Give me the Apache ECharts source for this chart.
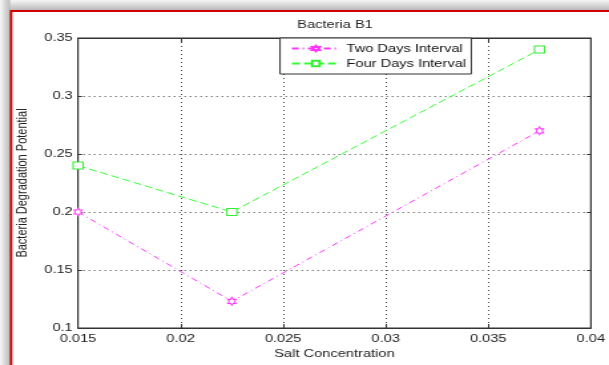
<!DOCTYPE html>
<html>
<head>
<meta charset="utf-8">
<script src="https://cdn.jsdelivr.net/npm/echarts@6/dist/echarts.min.js"></script>
<style>
html, body { margin: 0; padding: 0; background: #fff; overflow: hidden; }
/* the figure is drawn on a narrower canvas and widened, giving its wide lettering */
#chart { width: 458px; height: 365px; transform: scaleX(1.3297); transform-origin: 0 0; }
</style>
</head>
<body>
<div id="chart"></div>
<script>
// Salt concentration levels and measured degradation potential
const saltConcentration = [0.015, 0.0225, 0.0375];
const twoDaysInterval = [0.2, 0.123, 0.27];
const fourDaysInterval = [0.24, 0.2, 0.34];
const xTicks = [0.015, 0.02, 0.025, 0.03, 0.035, 0.04];
const yTicks = [0.1, 0.15, 0.2, 0.25, 0.3, 0.35];

const hexagram = 'path://M0,-10 L2.9,-5 L8.66,-5 L5.8,0 L8.66,5 L2.9,5 L0,10 L-2.9,5 L-8.66,5 L-5.8,0 L-8.66,-5 L-2.9,-5 Z';
const fmt = v => String(+v.toFixed(4));

const chart = echarts.init(document.getElementById('chart'));
const font = 'Liberation Sans, Arial, sans-serif';
const FS = 11;

function pairs(ys) { return saltConcentration.map((x, i) => [x, ys[i]]); }

const W = 458;
chart.setOption({
  animation: false,
  backgroundColor: '#ffffff',
  textStyle: { fontFamily: font },
  graphic: [
    { type: 'rect', shape: { x: 0, y: 0, width: W, height: 10 }, silent: true,
      style: { fill: new echarts.graphic.LinearGradient(0, 0, 0, 1, [{ offset: 0, color: '#f6f6f6' }, { offset: 1, color: '#bababa' }]) } },
    { type: 'rect', shape: { x: 0, y: 0, width: 7.5, height: 365 }, silent: true,
      style: { fill: new echarts.graphic.LinearGradient(0, 0, 1, 0, [{ offset: 0, color: '#f6f6f6' }, { offset: 1, color: '#bababa' }]) } },
    { type: 'polyline', shape: { points: [[8.3, 365], [8.3, 11], [W, 11]] }, silent: true,
      style: { stroke: '#d00000', lineWidth: 2, fill: null } },
    { type: 'text', x: 252, y: 25, silent: true,
      style: { text: 'Bacteria B1', fontSize: FS, fill: '#222', fontFamily: font, align: 'center', verticalAlign: 'middle' } }
  ],
  grid: { left: 58.7, right: 8.3, top: 38, bottom: 37, show: true, borderColor: '#333', borderWidth: 1, backgroundColor: 'transparent' },
  legend: {
    left: 210.6, top: 38, orient: 'vertical',
    backgroundColor: '#fff', borderColor: '#333', borderWidth: 1,
    padding: [5, 4, 5, 8], itemGap: 4, itemWidth: 36, itemHeight: 7,
    textStyle: { fontSize: FS, color: '#111', fontFamily: font },
    data: ['Two Days Interval', 'Four Days Interval']
  },
  xAxis: [{
    type: 'value', min: 0.015, max: 0.04, interval: 0.005,
    name: 'Salt Concentration', nameLocation: 'middle', nameGap: 19,
    nameTextStyle: { fontSize: FS, color: '#222' },
    axisLine: { show: true, lineStyle: { color: '#333' } },
    axisTick: { show: true, inside: true, length: 4, lineStyle: { color: '#333' } },
    axisLabel: { fontSize: FS, color: '#222', margin: 5, formatter: fmt, showMaxLabel: true },
    splitLine: { show: true, lineStyle: { color: '#444', type: [1, 3], width: 1 } }
  }, {
    type: 'value', position: 'top', min: 0.015, max: 0.04, interval: 0.005,
    axisLine: { show: true, lineStyle: { color: '#333' } },
    axisTick: { show: true, inside: true, length: 4, lineStyle: { color: '#333' } },
    axisLabel: { show: false }, splitLine: { show: false }
  }],
  yAxis: [{
    type: 'value', min: 0.1, max: 0.35, interval: 0.05,
    name: 'Bacteria Degradation Potential', nameLocation: 'middle', nameGap: 34,
    nameTextStyle: { fontSize: FS, color: '#222' },
    axisLine: { show: true, lineStyle: { color: '#333' } },
    axisTick: { show: true, inside: true, length: 3, lineStyle: { color: '#333' } },
    axisLabel: { fontSize: FS, color: '#222', margin: 4, formatter: fmt },
    splitLine: { show: true, lineStyle: { color: '#444', type: [1, 3], width: 1 } }
  }, {
    type: 'value', position: 'right', min: 0.1, max: 0.35, interval: 0.05,
    axisLine: { show: true, lineStyle: { color: '#333' } },
    axisTick: { show: true, inside: true, length: 3, lineStyle: { color: '#333' } },
    axisLabel: { show: false }, splitLine: { show: false }
  }],
  series: [{
    name: 'Two Days Interval', type: 'line', data: pairs(twoDaysInterval),
    symbol: hexagram, symbolSize: [6, 8],
    lineStyle: { color: '#ff33ff', width: 1, type: [5, 3, 1, 3] },
    itemStyle: { color: '#ffffff', borderColor: '#ff33ff', borderWidth: 1 }
  }, {
    name: 'Four Days Interval', type: 'line', data: pairs(fourDaysInterval),
    symbol: 'rect', symbolSize: [7.5, 7],
    lineStyle: { color: '#33ff33', width: 1, type: [6, 3] },
    itemStyle: { color: '#ffffff', borderColor: '#33ee33', borderWidth: 1 }
  }]
});
</script>
</body>
</html>
